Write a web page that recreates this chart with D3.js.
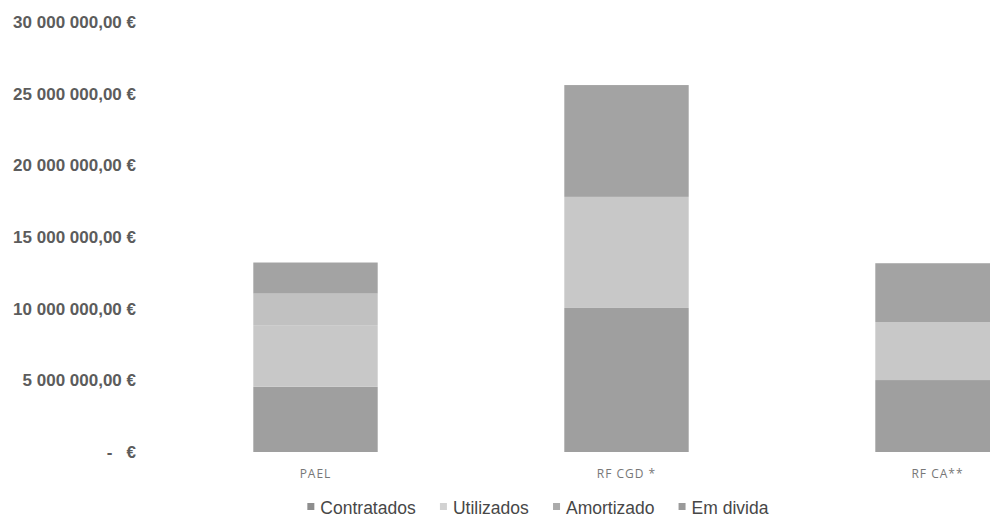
<!DOCTYPE html>
<html>
<head>
<meta charset="utf-8">
<script src="https://cdn.jsdelivr.net/npm/d3@7"></script>
<style>
  html, body { margin: 0; padding: 0; background: #fff; overflow: hidden; }
  svg { display: block; }
</style>
</head>
<body>
<svg id="chart" width="990" height="517"></svg>
<script>
// Financing lines (euros), stacked by state
const categories = ["PAEL", "RF CGD *", "RF CA**"];
const seriesNames = ["Contratados", "Utilizados", "Amortizado", "Em divida"];
const contratados = [4550000, 10050000, 5020000];
const utilizados  = [4300000, 7750000, 4050000];
const amortizado  = [2200000, 0, 0];
const emDivida    = [2170000, 7800000, 4100000];
const yTicks = [0, 5000000, 10000000, 15000000, 20000000, 25000000, 30000000];

const seriesColors = ["#9f9f9f", "#c8c8c8", "#c1c1c1", "#a3a3a3"];
const legendColors = ["#8e8e8e", "#d2d2d2", "#ababab", "#9a9a9a"];

const rows = categories.map((c, i) => ({
  cat: c,
  "Contratados": contratados[i],
  "Utilizados": utilizados[i],
  "Amortizado": amortizado[i],
  "Em divida": emDivida[i]
}));

const svg = d3.select("#chart");
const plotLeft = 160, plotRight = 1093, plotTop = 22, plotBottom = 452;

const x = d3.scaleBand().domain(categories).range([plotLeft, plotRight])
  .paddingInner(0.6).paddingOuter(0.3);
const y = d3.scaleLinear().domain([0, 30000000]).range([plotBottom, plotTop]);

const stack = d3.stack().keys(seriesNames);
const layers = stack(rows);

// stacked bars
svg.append("g").selectAll("g")
  .data(layers)
  .join("g")
  .attr("fill", (d, i) => seriesColors[i])
  .selectAll("rect")
  .data(d => d)
  .join("rect")
  .attr("x", d => x(d.data.cat))
  .attr("width", x.bandwidth())
  .attr("y", d => y(d[1]))
  .attr("height", d => y(d[0]) - y(d[1]));

// y axis labels in Portuguese currency format
const fmtNum = v => {
  if (v === 0) return "-   €";
  const s = d3.format(",.2f")(v);
  return s.replace(/,/g, " ").replace(".", ",") + " €";
};
const yAxis = d3.axisLeft(y).tickValues(yTicks).tickSize(0).tickPadding(0).tickFormat(fmtNum);
const gy = svg.append("g").attr("transform", "translate(136,0)").call(yAxis);
gy.select(".domain").remove();
gy.selectAll("text")
  .attr("font-family", "Liberation Sans, Arial, sans-serif")
  .attr("font-size", 17)
  .attr("font-weight", "bold")
  .attr("fill", "#5c5c5c")
  .style("white-space", "pre");

// category axis
const xAxis = d3.axisBottom(x).tickSize(0).tickPadding(0);
const gx = svg.append("g").attr("transform", "translate(0,469)").call(xAxis);
gx.select(".domain").remove();
gx.selectAll("text")
  .attr("font-family", "Open Sans, sans-serif")
  .attr("font-size", 12)
  .attr("letter-spacing", 1)
  .attr("fill", "#777777");

// legend
const legend = svg.append("g").attr("font-family", "Liberation Sans, Arial, sans-serif");
const items = legend.selectAll("g").data(seriesNames).join("g");
items.append("rect").attr("width", 7).attr("height", 7).attr("y", -11)
  .attr("fill", (d, i) => legendColors[i]);
items.append("text").attr("x", 13).attr("y", 0)
  .attr("font-size", 17.5).attr("fill", "#474747").text(d => d);
let cx = 0;
items.each(function () {
  d3.select(this).attr("transform", `translate(${cx},0)`);
  cx += this.getBBox().width + 24;
});
const totalW = cx - 24;
legend.attr("transform", `translate(${538 - totalW / 2},514)`);
</script>
</body>
</html>
